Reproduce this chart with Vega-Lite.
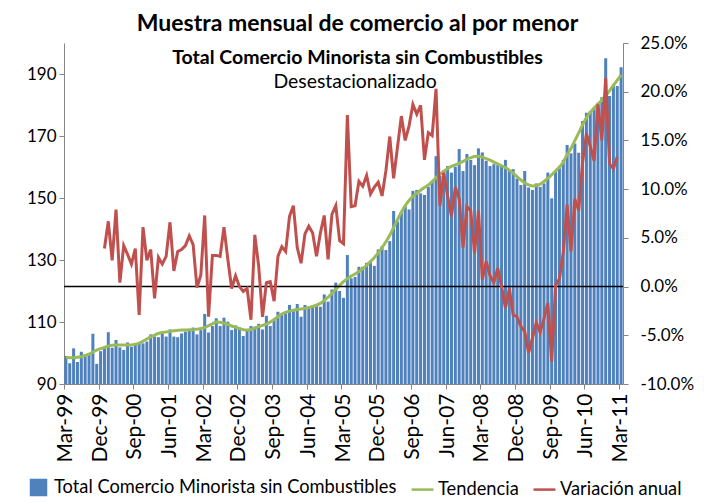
{
  "$schema": "https://vega.github.io/schema/vega-lite/v6.json",
  "autosize": {"type": "none"},
  "padding": {"left": 64, "top": 43, "right": 81, "bottom": 119},
  "width": 559,
  "height": 341,
  "background": "white",
  "title": {
    "text": "Muestra mensual de comercio al por menor",
    "subtitle": "Total Comercio Minorista sin Combustibles",
    "anchor": "middle",
    "dx": 14,
    "offset": -33,
    "font": "Lato",
    "fontSize": 23,
    "fontWeight": "bold",
    "color": "black",
    "subtitleFont": "Lato",
    "subtitleFontSize": 19.5,
    "subtitleFontWeight": "bold",
    "subtitleColor": "black",
    "subtitlePadding": 13
  },
  "config": {
    "view": {"stroke": null},
    "axis": {
      "grid": false,
      "title": null,
      "domainColor": "#868686",
      "tickColor": "#868686",
      "labelColor": "black",
      "labelFont": "Lato",
      "labelFontSize": 17,
      "tickSize": 5
    }
  },
  "data": {
    "values": [
      {"mes": "Mar-99", "v": 99.0, "t": 98.6, "a": null},
      {"mes": "Apr-99", "v": 96.7, "t": 98.5, "a": null},
      {"mes": "May-99", "v": 101.5, "t": 98.5, "a": null},
      {"mes": "Jun-99", "v": 97.1, "t": 98.6, "a": null},
      {"mes": "Jul-99", "v": 100.4, "t": 98.8, "a": null},
      {"mes": "Aug-99", "v": 99.7, "t": 99.2, "a": null},
      {"mes": "Sep-99", "v": 99.4, "t": 99.6, "a": null},
      {"mes": "Oct-99", "v": 106.2, "t": 100.3, "a": null},
      {"mes": "Nov-99", "v": 96.5, "t": 100.9, "a": null},
      {"mes": "Dec-99", "v": 100.6, "t": 101.4, "a": null},
      {"mes": "Jan-00", "v": 101.6, "t": 101.8, "a": 0.039},
      {"mes": "Feb-00", "v": 106.7, "t": 102.2, "a": 0.067},
      {"mes": "Mar-00", "v": 101.7, "t": 102.5, "a": 0.027},
      {"mes": "Apr-00", "v": 104.2, "t": 102.6, "a": 0.079},
      {"mes": "May-00", "v": 101.8, "t": 102.6, "a": 0.004},
      {"mes": "Jun-00", "v": 101.0, "t": 102.6, "a": 0.042},
      {"mes": "Jul-00", "v": 103.4, "t": 102.6, "a": 0.033},
      {"mes": "Aug-00", "v": 102.0, "t": 102.6, "a": 0.023},
      {"mes": "Sep-00", "v": 103.2, "t": 102.8, "a": 0.039},
      {"mes": "Oct-00", "v": 103.0, "t": 103.2, "a": -0.029},
      {"mes": "Nov-00", "v": 103.1, "t": 103.8, "a": 0.061},
      {"mes": "Dec-00", "v": 103.7, "t": 104.5, "a": 0.027},
      {"mes": "Jan-01", "v": 106.0, "t": 105.2, "a": 0.038},
      {"mes": "Feb-01", "v": 105.3, "t": 105.8, "a": -0.012},
      {"mes": "Mar-01", "v": 105.1, "t": 106.3, "a": 0.030},
      {"mes": "Apr-01", "v": 106.6, "t": 106.6, "a": 0.023},
      {"mes": "May-01", "v": 105.3, "t": 106.8, "a": 0.031},
      {"mes": "Jun-01", "v": 107.6, "t": 107.0, "a": 0.066},
      {"mes": "Jul-01", "v": 105.3, "t": 107.2, "a": 0.016},
      {"mes": "Aug-01", "v": 105.1, "t": 107.3, "a": 0.036},
      {"mes": "Sep-01", "v": 106.3, "t": 107.4, "a": 0.038},
      {"mes": "Oct-01", "v": 106.9, "t": 107.4, "a": 0.042},
      {"mes": "Nov-01", "v": 107.4, "t": 107.5, "a": 0.052},
      {"mes": "Dec-01", "v": 108.2, "t": 107.5, "a": 0.043},
      {"mes": "Jan-02", "v": 106.0, "t": 107.7, "a": -0.001},
      {"mes": "Feb-02", "v": 107.4, "t": 107.9, "a": 0.012},
      {"mes": "Mar-02", "v": 112.6, "t": 108.2, "a": 0.073},
      {"mes": "Apr-02", "v": 106.6, "t": 108.8, "a": -0.031},
      {"mes": "May-02", "v": 108.7, "t": 109.4, "a": 0.032},
      {"mes": "Jun-02", "v": 111.2, "t": 110.0, "a": 0.032},
      {"mes": "Jul-02", "v": 108.7, "t": 109.9, "a": 0.031},
      {"mes": "Aug-02", "v": 111.4, "t": 109.6, "a": 0.061},
      {"mes": "Sep-02", "v": 110.1, "t": 109.2, "a": 0.028},
      {"mes": "Oct-02", "v": 107.4, "t": 108.7, "a": -0.002},
      {"mes": "Nov-02", "v": 108.9, "t": 108.3, "a": 0.011},
      {"mes": "Dec-02", "v": 108.3, "t": 107.9, "a": 0.000},
      {"mes": "Jan-03", "v": 105.5, "t": 107.5, "a": -0.005},
      {"mes": "Feb-03", "v": 107.1, "t": 107.4, "a": -0.002},
      {"mes": "Mar-03", "v": 108.7, "t": 107.6, "a": -0.034},
      {"mes": "Apr-03", "v": 108.5, "t": 108.0, "a": 0.053},
      {"mes": "May-03", "v": 109.4, "t": 108.5, "a": 0.021},
      {"mes": "Jun-03", "v": 107.6, "t": 108.9, "a": -0.031},
      {"mes": "Jul-03", "v": 112.0, "t": 109.3, "a": 0.004},
      {"mes": "Aug-03", "v": 108.7, "t": 110.0, "a": 0.005},
      {"mes": "Sep-03", "v": 110.6, "t": 110.8, "a": -0.015},
      {"mes": "Oct-03", "v": 113.3, "t": 111.7, "a": 0.031},
      {"mes": "Nov-03", "v": 112.5, "t": 112.6, "a": 0.041},
      {"mes": "Dec-03", "v": 113.0, "t": 113.1, "a": 0.036},
      {"mes": "Jan-04", "v": 115.5, "t": 113.5, "a": 0.072},
      {"mes": "Feb-04", "v": 114.1, "t": 113.8, "a": 0.083},
      {"mes": "Mar-04", "v": 115.8, "t": 114.0, "a": 0.040},
      {"mes": "Apr-04", "v": 111.7, "t": 114.2, "a": 0.024},
      {"mes": "May-04", "v": 115.5, "t": 114.4, "a": 0.054},
      {"mes": "Jun-04", "v": 114.7, "t": 114.7, "a": 0.062},
      {"mes": "Jul-04", "v": 114.9, "t": 115.0, "a": 0.055},
      {"mes": "Aug-04", "v": 115.5, "t": 115.4, "a": 0.031},
      {"mes": "Sep-04", "v": 114.9, "t": 116.0, "a": 0.055},
      {"mes": "Oct-04", "v": 118.9, "t": 116.9, "a": 0.073},
      {"mes": "Nov-04", "v": 116.6, "t": 118.0, "a": 0.028},
      {"mes": "Dec-04", "v": 120.5, "t": 119.2, "a": 0.074},
      {"mes": "Jan-05", "v": 122.7, "t": 120.5, "a": 0.083},
      {"mes": "Feb-05", "v": 120.0, "t": 121.8, "a": 0.047},
      {"mes": "Mar-05", "v": 117.8, "t": 123.0, "a": 0.044},
      {"mes": "Apr-05", "v": 131.6, "t": 124.0, "a": 0.176},
      {"mes": "May-05", "v": 124.1, "t": 124.8, "a": 0.082},
      {"mes": "Jun-05", "v": 124.5, "t": 125.5, "a": 0.083},
      {"mes": "Jul-05", "v": 127.8, "t": 126.3, "a": 0.108},
      {"mes": "Aug-05", "v": 127.8, "t": 127.2, "a": 0.103},
      {"mes": "Sep-05", "v": 129.1, "t": 128.3, "a": 0.114},
      {"mes": "Oct-05", "v": 129.8, "t": 129.5, "a": 0.095},
      {"mes": "Nov-05", "v": 128.1, "t": 130.8, "a": 0.102},
      {"mes": "Dec-05", "v": 133.4, "t": 132.3, "a": 0.107},
      {"mes": "Jan-06", "v": 134.5, "t": 134.0, "a": 0.093},
      {"mes": "Feb-06", "v": 133.2, "t": 135.9, "a": 0.119},
      {"mes": "Mar-06", "v": 136.1, "t": 138.0, "a": 0.154},
      {"mes": "Apr-06", "v": 145.8, "t": 140.5, "a": 0.111},
      {"mes": "May-06", "v": 142.4, "t": 143.0, "a": 0.143},
      {"mes": "Jun-06", "v": 145.6, "t": 145.4, "a": 0.175},
      {"mes": "Jul-06", "v": 147.7, "t": 147.5, "a": 0.150},
      {"mes": "Aug-06", "v": 146.3, "t": 149.2, "a": 0.165},
      {"mes": "Sep-06", "v": 152.3, "t": 150.5, "a": 0.187},
      {"mes": "Oct-06", "v": 152.6, "t": 151.6, "a": 0.177},
      {"mes": "Nov-06", "v": 151.5, "t": 152.5, "a": 0.186},
      {"mes": "Dec-06", "v": 151.0, "t": 153.4, "a": 0.130},
      {"mes": "Jan-07", "v": 153.6, "t": 154.2, "a": 0.158},
      {"mes": "Feb-07", "v": 155.5, "t": 155.3, "a": 0.155},
      {"mes": "Mar-07", "v": 163.5, "t": 156.5, "a": 0.203},
      {"mes": "Apr-07", "v": 157.1, "t": 157.6, "a": 0.083},
      {"mes": "May-07", "v": 159.0, "t": 158.6, "a": 0.117},
      {"mes": "Jun-07", "v": 160.3, "t": 159.5, "a": 0.093},
      {"mes": "Jul-07", "v": 158.2, "t": 160.2, "a": 0.072},
      {"mes": "Aug-07", "v": 160.1, "t": 160.7, "a": 0.102},
      {"mes": "Sep-07", "v": 165.8, "t": 161.2, "a": 0.090},
      {"mes": "Oct-07", "v": 158.7, "t": 161.8, "a": 0.040},
      {"mes": "Nov-07", "v": 164.2, "t": 162.5, "a": 0.082},
      {"mes": "Dec-07", "v": 162.3, "t": 163.0, "a": 0.078},
      {"mes": "Jan-08", "v": 160.6, "t": 163.4, "a": 0.034},
      {"mes": "Feb-08", "v": 166.0, "t": 163.5, "a": 0.078},
      {"mes": "Mar-08", "v": 164.7, "t": 163.2, "a": 0.007},
      {"mes": "Apr-08", "v": 162.0, "t": 162.7, "a": 0.026},
      {"mes": "May-08", "v": 160.3, "t": 162.2, "a": 0.011},
      {"mes": "Jun-08", "v": 160.9, "t": 161.6, "a": 0.004},
      {"mes": "Jul-08", "v": 160.6, "t": 161.0, "a": 0.019},
      {"mes": "Aug-08", "v": 160.3, "t": 160.4, "a": 0.000},
      {"mes": "Sep-08", "v": 162.3, "t": 159.8, "a": -0.022},
      {"mes": "Oct-08", "v": 158.7, "t": 159.0, "a": -0.002},
      {"mes": "Nov-08", "v": 159.3, "t": 158.0, "a": -0.029},
      {"mes": "Dec-08", "v": 156.3, "t": 156.9, "a": -0.031},
      {"mes": "Jan-09", "v": 154.2, "t": 155.8, "a": -0.041},
      {"mes": "Feb-09", "v": 158.7, "t": 154.9, "a": -0.046},
      {"mes": "Mar-09", "v": 153.4, "t": 154.2, "a": -0.068},
      {"mes": "Apr-09", "v": 152.6, "t": 153.9, "a": -0.053},
      {"mes": "May-09", "v": 154.7, "t": 154.0, "a": -0.037},
      {"mes": "Jun-09", "v": 153.6, "t": 154.5, "a": -0.047},
      {"mes": "Jul-09", "v": 154.7, "t": 155.3, "a": -0.033},
      {"mes": "Aug-09", "v": 158.2, "t": 156.3, "a": -0.017},
      {"mes": "Sep-09", "v": 149.9, "t": 157.5, "a": -0.077},
      {"mes": "Oct-09", "v": 158.8, "t": 158.7, "a": 0.001},
      {"mes": "Nov-09", "v": 159.6, "t": 160.0, "a": 0.008},
      {"mes": "Dec-09", "v": 162.3, "t": 161.6, "a": 0.035},
      {"mes": "Jan-10", "v": 167.1, "t": 164.0, "a": 0.084},
      {"mes": "Feb-10", "v": 164.4, "t": 166.0, "a": 0.036},
      {"mes": "Mar-10", "v": 167.6, "t": 168.5, "a": 0.090},
      {"mes": "Apr-10", "v": 164.6, "t": 171.0, "a": 0.078},
      {"mes": "May-10", "v": 174.8, "t": 173.6, "a": 0.127},
      {"mes": "Jun-10", "v": 177.5, "t": 175.9, "a": 0.157},
      {"mes": "Jul-10", "v": 178.1, "t": 177.6, "a": 0.144},
      {"mes": "Aug-10", "v": 179.2, "t": 179.0, "a": 0.129},
      {"mes": "Sep-10", "v": 180.7, "t": 180.3, "a": 0.187},
      {"mes": "Oct-10", "v": 182.5, "t": 181.6, "a": 0.150},
      {"mes": "Nov-10", "v": 195.1, "t": 183.0, "a": 0.214},
      {"mes": "Dec-10", "v": 182.9, "t": 184.6, "a": 0.126},
      {"mes": "Jan-11", "v": 186.7, "t": 186.3, "a": 0.121},
      {"mes": "Feb-11", "v": 186.1, "t": 188.0, "a": 0.133},
      {"mes": "Mar-11", "v": 192.2, "t": 189.7, "a": null}
    ]
  },
  "layer": [
    {
      "layer": [
        {
          "mark": {"type": "bar"},
          "encoding": {
            "x": {
              "field": "mes",
              "type": "ordinal",
              "sort": null,
              "scale": {"paddingInner": 0.22, "paddingOuter": 0.1},
              "axis": {
                "labelAngle": -90,
                "labelPadding": 4,
                "labelFontSize": 21,
                "bandPosition": 0,
                "values": ["Mar-99", "Dec-99", "Sep-00", "Jun-01", "Mar-02", "Dec-02", "Sep-03", "Jun-04", "Mar-05", "Dec-05", "Sep-06", "Jun-07", "Mar-08", "Dec-08", "Sep-09", "Jun-10", "Mar-11"]
              }
            },
            "y": {
              "field": "v",
              "type": "quantitative",
              "scale": {"domain": [90, 200], "zero": false, "nice": false},
              "axis": {"orient": "left", "values": [90, 110, 130, 150, 170, 190], "labelPadding": 3}
            },
            "y2": {"datum": 90},
            "color": {
              "datum": "Total Comercio Minorista sin Combustibles",
              "type": "nominal",
              "scale": {
                "domain": ["Total Comercio Minorista sin Combustibles", "Tendencia", "Variación anual"],
                "range": ["#4F81BD", "#9BBB59", "#C0504D"]
              },
              "legend": {
                "title": null,
                "orient": "none",
                "direction": "horizontal",
                "legendX": -38,
                "legendY": 432,
                "labelFont": "Lato",
                "labelFontSize": 18.3,
                "labelColor": "black",
                "labelLimit": 500,
                "labelOffset": 3,
                "columnPadding": 9,
                "encode": {
                  "symbols": {
                    "update": {
                      "shape": {"signal": "datum.value == 'Total Comercio Minorista sin Combustibles' ? 'square' : 'stroke'"},
                      "size": {"signal": "datum.value == 'Total Comercio Minorista sin Combustibles' ? 225 : 480"},
                      "fill": {"scale": "color", "field": "value"},
                      "stroke": {"scale": "color", "field": "value"},
                      "strokeWidth": {"value": 2.5},
                      "opacity": {"value": 1}
                    }
                  }
                }
              }
            }
          }
        },
        {
          "mark": {"type": "line", "interpolate": "monotone", "strokeWidth": 3},
          "encoding": {
            "x": {"field": "mes", "type": "ordinal", "sort": null},
            "y": {"field": "t", "type": "quantitative", "scale": {"domain": [90, 200], "zero": false, "nice": false}},
            "color": {"datum": "Tendencia", "type": "nominal"}
          }
        },
        {
          "data": {"values": [{}]},
          "mark": {"type": "text", "font": "Lato", "fontSize": 19.4, "color": "black"},
          "encoding": {
            "x": {"datum": "Jun-05", "type": "ordinal"},
            "y": {"datum": 187.3, "type": "quantitative"},
            "text": {"value": "Desestacionalizado"}
          }
        }
      ]
    },
    {
      "layer": [
        {
          "data": {"values": [{}]},
          "mark": {"type": "rule", "color": "black", "strokeWidth": 1.5},
          "encoding": {
            "y": {"datum": 0, "type": "quantitative"}
          }
        },
        {
          "mark": {"type": "line", "strokeWidth": 3},
          "encoding": {
            "x": {"field": "mes", "type": "ordinal", "sort": null},
            "y": {
              "field": "a",
              "type": "quantitative",
              "scale": {"domain": [-0.1, 0.25], "zero": false, "nice": false},
              "axis": {
                "orient": "right",
                "values": [-0.1, -0.05, 0, 0.05, 0.1, 0.15, 0.2, 0.25],
                "labelExpr": "replace(format(datum.value, '.1%'), '\u2212', '-')",
                "labelPadding": 12
              }
            },
            "color": {"datum": "Variación anual", "type": "nominal"}
          }
        }
      ]
    }
  ],
  "resolve": {"scale": {"y": "independent"}}
}
